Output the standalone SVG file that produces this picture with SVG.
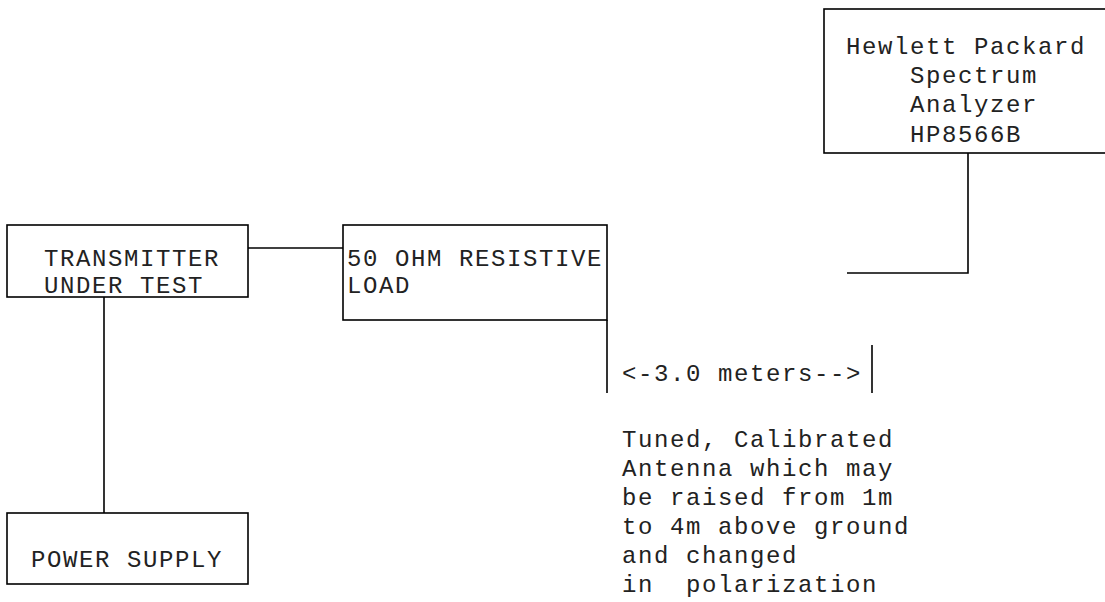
<svg xmlns="http://www.w3.org/2000/svg" width="1105" height="602" viewBox="0 0 1105 602">
<style>
  .box { fill: none; stroke: #000; stroke-width: 1.6; }
  .wire { fill: none; stroke: #000; stroke-width: 1.6; }
  text { font-family: "Liberation Mono", "DejaVu Sans Mono", monospace; font-size: 24px; letter-spacing: 1.6px; fill: #222; }
</style>
<rect width="1105" height="602" fill="#fff"/>
<g id="connectors">
  <line class="wire" x1="248" y1="248" x2="343" y2="248"/>
  <line class="wire" x1="104" y1="297" x2="104" y2="513"/>
  <line class="wire" x1="607" y1="320" x2="607" y2="393"/>
  <line class="wire" x1="872" y1="345" x2="872" y2="393"/>
  <polyline class="wire" points="968,153 968,273 847,273"/>
</g>
<g id="transmitter">
  <rect class="box" x="7" y="225" width="241" height="72"/>
  <text x="44" y="265.5">TRANSMITTER</text>
  <text x="44" y="293">UNDER TEST</text>
</g>
<g id="load">
  <rect class="box" x="343" y="225" width="264" height="95"/>
  <text x="347" y="265.5">50 OHM RESISTIVE</text>
  <text x="347" y="293">LOAD</text>
</g>
<g id="analyzer">
  <rect class="box" x="824" y="9" width="290" height="144"/>
  <text x="846" y="54">Hewlett Packard</text>
  <text x="910" y="83">Spectrum</text>
  <text x="910" y="112">Analyzer</text>
  <text x="910" y="141.5">HP8566B</text>
</g>
<g id="power-supply">
  <rect class="box" x="7" y="513" width="241" height="71"/>
  <text x="31" y="567">POWER SUPPLY</text>
</g>
<g id="distance">
  <text x="622" y="381">&lt;-3.0 meters--&gt;</text>
</g>
<g id="antenna">
  <text x="622" y="447">Tuned, Calibrated</text>
  <text x="622" y="476">Antenna which may</text>
  <text x="622" y="505">be raised from 1m</text>
  <text x="622" y="534">to 4m above ground</text>
  <text x="622" y="563">and changed</text>
  <text x="622" y="592" xml:space="preserve">in  polarization</text>
</g>
</svg>
